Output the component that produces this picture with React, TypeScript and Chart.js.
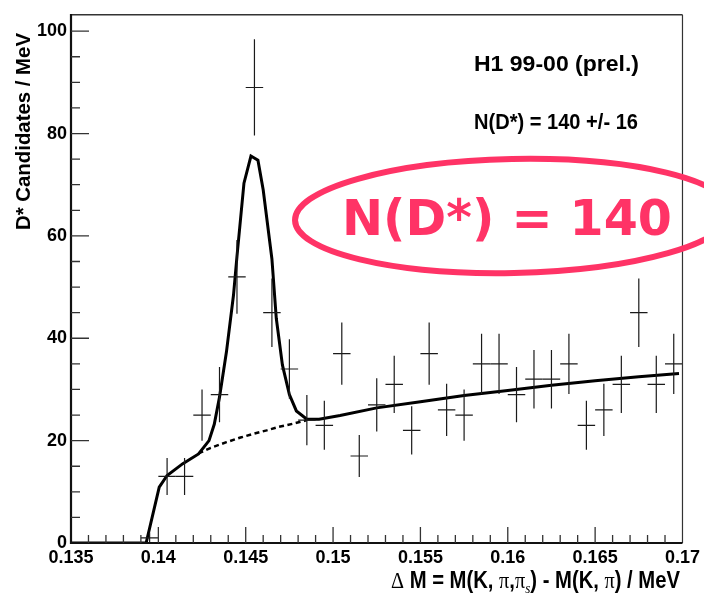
import React, { useEffect, useRef } from 'react';
import { Chart, registerables } from 'chart.js';
Chart.register(...registerables);

// ---- data ----
const binCenters = [0.1395, 0.1405, 0.1415, 0.1425, 0.1435, 0.1445, 0.1455, 0.1465, 0.1475, 0.1485, 0.1495, 0.1505, 0.1515, 0.1525, 0.1535, 0.1545, 0.1555, 0.1565, 0.1575, 0.1585, 0.1595, 0.1605, 0.1615, 0.1625, 0.1635, 0.1645, 0.1655, 0.1665, 0.1675, 0.1685, 0.1695];
const binCounts = [1, 13, 13, 25, 29, 52, 89, 45, 34, 24, 23, 37, 17, 27, 31, 22, 37, 26, 25, 35, 35, 29, 32, 32, 35, 23, 26, 31, 45, 31, 35];
const binErrors = [1, 3.6, 3.6, 5, 5.4, 7.2, 9.4, 6.7, 5.8, 4.9, 4.8, 6.1, 4.1, 5.2, 5.6, 4.7, 6.1, 5.1, 5, 5.9, 5.9, 5.4, 5.7, 5.7, 5.9, 4.8, 5.1, 5.6, 6.7, 5.6, 5.9];
const binHalfWidth = 0.0005;

const fitX = [0.135, 0.1393, 0.14005, 0.1405, 0.1414, 0.1423, 0.1429, 0.1432, 0.1435, 0.1439, 0.1443, 0.1445, 0.1449, 0.1453, 0.1457, 0.146, 0.1465, 0.14675, 0.1471, 0.1475, 0.1479, 0.1485, 0.1492, 0.1504, 0.1525, 0.155, 0.1575, 0.16, 0.1625, 0.165, 0.1675, 0.1698];
const fitY = [0, 0, 10.9, 13.2, 15.5, 17.4, 20, 23.2, 28.5, 37.4, 48.4, 56, 70.3, 75.6, 74.8, 69, 55.5, 43.9, 34.8, 29, 25.8, 24.2, 24.2, 24.9, 26.4, 27.6, 28.8, 29.8, 30.8, 31.7, 32.5, 33.1];

const bkgX = [0.1423, 0.143, 0.1439, 0.1447, 0.1454, 0.1462, 0.1469, 0.1477, 0.1485];
const bkgY = [17.5, 18.6, 19.7, 20.6, 21.3, 22.0, 22.7, 23.3, 24.0];

const xTickValues = [0.135, 0.14, 0.145, 0.15, 0.155, 0.16, 0.165, 0.17];
const xTickLabels = ['0.135', '0.14', '0.145', '0.15', '0.155', '0.16', '0.165', '0.17'];
const yTickValues = [0, 20, 40, 60, 80, 100];
const yTickLabels = ['0', '20', '40', '60', '80', '100'];

const X_MIN = 0.135;
const X_MAX = 0.17;
const Y_MIN = 0;
const Y_MAX = 103.2;
const X_MINOR_STEP = 0.001;
const Y_MINOR_STEP = 5;

const titleText = 'H1 99-00 (prel.)';
const yieldText = 'N(D*) = 140 +/- 16';
const bigText = 'N(D*) = 140';
const yTitle = 'D* Candidates / MeV';

const SANS = "'Liberation Sans', Arial, Helvetica, sans-serif";
const SERIF = "'Liberation Serif', 'DejaVu Serif', serif";
const PINK = '#ff3366';

function drawFitted(ctx: CanvasRenderingContext2D, text: string, x: number, y: number, font: string, width: number) {
  ctx.save();
  ctx.font = font;
  const w = ctx.measureText(text).width;
  ctx.translate(x, y);
  ctx.scale(width / w, 1);
  ctx.textAlign = 'left';
  ctx.textBaseline = 'alphabetic';
  ctx.fillText(text, 0, 0);
  ctx.restore();
}

const decorPlugin = {
  id: 'decor',
  afterDatasetsDraw(chart: any) {
    const ctx: CanvasRenderingContext2D = chart.ctx;
    const xs = chart.scales.x;
    const ys = chart.scales.y;
    const { left, right, top, bottom } = chart.chartArea;

    // error bars
    ctx.save();
    ctx.strokeStyle = '#1a1a1a';
    ctx.lineWidth = 1.2;
    binCenters.forEach((c, i) => {
      const px = xs.getPixelForValue(c);
      const x0 = xs.getPixelForValue(c - binHalfWidth);
      const x1 = xs.getPixelForValue(c + binHalfWidth);
      const py = ys.getPixelForValue(binCounts[i]);
      const y0 = ys.getPixelForValue(Math.max(0, binCounts[i] - binErrors[i]));
      const y1 = ys.getPixelForValue(binCounts[i] + binErrors[i]);
      ctx.beginPath();
      ctx.moveTo(x0, py); ctx.lineTo(x1, py);
      ctx.moveTo(px, y0); ctx.lineTo(px, y1);
      ctx.stroke();
    });
    ctx.restore();

    // frame
    ctx.save();
    ctx.strokeStyle = '#333';
    ctx.lineWidth = 1.5;
    ctx.beginPath(); ctx.moveTo(left, top); ctx.lineTo(right, top); ctx.stroke();
    ctx.lineWidth = 1.2;
    ctx.beginPath(); ctx.moveTo(right, top); ctx.lineTo(right, bottom); ctx.stroke();
    ctx.strokeStyle = '#111';
    ctx.lineWidth = 2.2;
    ctx.beginPath(); ctx.moveTo(left, top - 0.75); ctx.lineTo(left, bottom); ctx.lineTo(right, bottom); ctx.stroke();

    // ticks
    ctx.strokeStyle = '#333';
    ctx.lineWidth = 1.3;
    ctx.beginPath();
    const nx = Math.round((X_MAX - X_MIN) / X_MINOR_STEP);
    for (let k = 1; k < nx; k++) {
      const v = X_MIN + k * X_MINOR_STEP;
      const px = xs.getPixelForValue(v);
      const major = k % 5 === 0;
      ctx.moveTo(px, bottom); ctx.lineTo(px, bottom - (major ? 16 : 8));
    }
    const ny = Math.floor((Y_MAX - Y_MIN) / Y_MINOR_STEP);
    for (let k = 1; k <= ny; k++) {
      const v = Y_MIN + k * Y_MINOR_STEP;
      const py = ys.getPixelForValue(v);
      const major = k % 4 === 0;
      ctx.moveTo(left, py); ctx.lineTo(left + (major ? 18 : 9), py);
    }
    ctx.stroke();
    ctx.restore();

    // annotation texts
    ctx.save();
    ctx.fillStyle = '#000';
    drawFitted(ctx, titleText, 474, 71, `bold 22px ${SANS}`, 165);
    drawFitted(ctx, yieldText, 474, 129, `bold 22px ${SANS}`, 164);

    // ellipse + big text
    ctx.strokeStyle = PINK;
    ctx.lineWidth = 6;
    ctx.beginPath();
    ctx.ellipse(513, 216, 218, 57, -0.02, 0, Math.PI * 2);
    ctx.stroke();
    ctx.fillStyle = PINK;
    drawFitted(ctx, bigText, 342, 235, `bold 49px 'DejaVu Sans', Verdana, sans-serif`, 330);

    // y title
    ctx.fillStyle = '#000';
    ctx.save();
    ctx.translate(30, 230);
    ctx.rotate(-Math.PI / 2);
    drawFitted(ctx, yTitle, 0, 0, `bold 21px ${SANS}`, 197);
    ctx.restore();

    // x title with symbols and subscript
    const bold = `bold 23px ${SANS}`;
    const sym = `23px ${SERIF}`;
    const sub = `italic 15px ${SERIF}`;
    const parts: { t: string; f: string; dy: number }[] = [
      { t: '\u0394', f: sym, dy: 0 },
      { t: ' M = M(K, ', f: bold, dy: 0 },
      { t: '\u03c0', f: sym, dy: 0 },
      { t: ',', f: bold, dy: 0 },
      { t: '\u03c0', f: sym, dy: 0 },
      { t: 's', f: sub, dy: 5 },
      { t: ') - M(K, ', f: bold, dy: 0 },
      { t: '\u03c0', f: sym, dy: 0 },
      { t: ') / MeV', f: bold, dy: 0 },
    ];
    let total = 0;
    parts.forEach((p) => { ctx.font = p.f; total += ctx.measureText(p.t).width; });
    const x0 = 391, x1 = 680, base = 588;
    ctx.save();
    ctx.translate(x0, base);
    ctx.scale((x1 - x0) / total, 1);
    ctx.textAlign = 'left';
    ctx.textBaseline = 'alphabetic';
    let cx = 0;
    parts.forEach((p) => {
      ctx.font = p.f;
      ctx.fillText(p.t, cx, p.dy);
      cx += ctx.measureText(p.t).width;
    });
    ctx.restore();
    ctx.restore();
  },
};

export default function App() {
  const ref = useRef<HTMLCanvasElement | null>(null);
  useEffect(() => {
    if (!ref.current) return;
    const chart = new Chart(ref.current, {
      type: 'scatter',
      data: {
        datasets: [
          {
            label: 'fit',
            data: fitX.map((x, i) => ({ x, y: fitY[i] })),
            showLine: true,
            borderColor: '#000',
            borderWidth: 3,
            pointRadius: 0,
            tension: 0,
          },
          {
            label: 'background',
            data: bkgX.map((x, i) => ({ x, y: bkgY[i] })),
            showLine: true,
            borderColor: '#000',
            borderWidth: 2.5,
            borderDash: [5, 3.5],
            pointRadius: 0,
            tension: 0,
          },
          {
            label: 'data',
            data: binCenters.map((x, i) => ({ x, y: binCounts[i] })),
            showLine: false,
            pointRadius: 0,
          },
        ],
      } as any,
      options: {
        responsive: false,
        animation: false,
        devicePixelRatio: 1,
        layout: { padding: { left: 0, right: 21, top: 10, bottom: 0 } },
        plugins: { legend: { display: false }, tooltip: { enabled: false } },
        scales: {
          x: {
            type: 'linear',
            min: X_MIN,
            max: X_MAX,
            grid: { display: false, drawTicks: false },
            border: { display: false },
            afterBuildTicks: (s: any) => { s.ticks = xTickValues.map((v) => ({ value: v })); },
            afterFit: (s: any) => { s.height = 54; },
            ticks: {
              autoSkip: false,
              maxRotation: 0,
              padding: 4,
              color: '#000',
              font: { family: SANS, size: 18, weight: 'bold' },
              callback: (_v: any, i: number) => xTickLabels[i],
            },
          },
          y: {
            type: 'linear',
            min: Y_MIN,
            max: Y_MAX,
            grid: { display: false, drawTicks: false },
            border: { display: false },
            afterBuildTicks: (s: any) => { s.ticks = yTickValues.map((v) => ({ value: v })); },
            afterFit: (s: any) => { s.width = 71; },
            ticks: {
              autoSkip: false,
              padding: 4,
              color: '#000',
              font: { family: SANS, size: 18, weight: 'bold' },
              callback: (_v: any, i: number) => yTickLabels[i],
            },
          },
        },
      } as any,
      plugins: [decorPlugin],
    });
    return () => chart.destroy();
  }, []);
  return (
    <div style={{ position: 'absolute', left: 0, top: 0, width: 704, height: 597, background: '#fff' }}>
      <canvas ref={ref} width={704} height={597} style={{ display: 'block' }} />
    </div>
  );
}
